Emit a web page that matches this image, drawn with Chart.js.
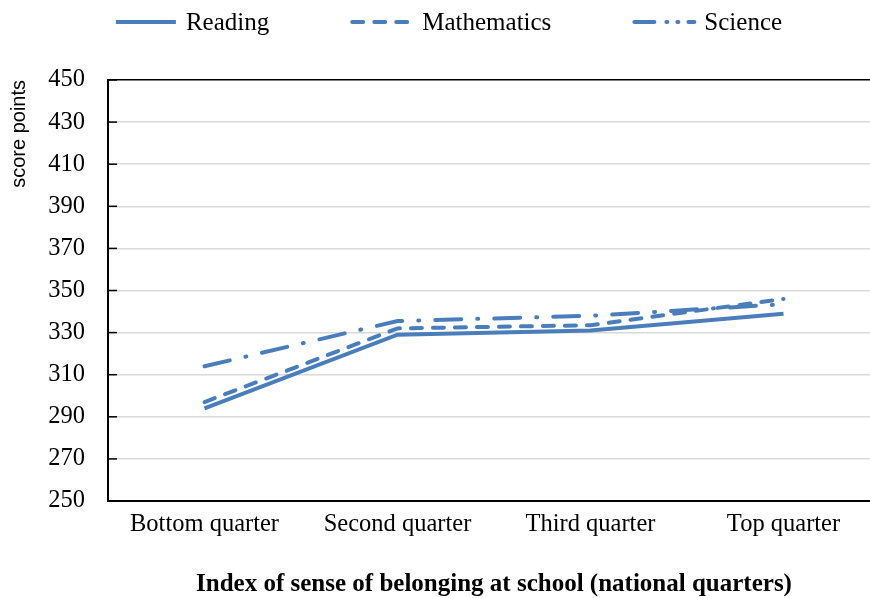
<!DOCTYPE html>
<html><head><meta charset="utf-8">
<script src="https://cdn.jsdelivr.net/npm/chart.js@4/dist/chart.umd.min.js"></script>
<style>
html,body{margin:0;padding:0;background:#fff;overflow:hidden;width:870px;height:598px}
#wrap{width:890px;height:598px}
</style></head>
<body><div id="wrap"><canvas id="c" width="890" height="598"></canvas></div>
<script>
const categories = ['Bottom quarter', 'Second quarter', 'Third quarter', 'Top quarter'];
const reading = [294, 329, 331, 339];
const mathematics = [297, 332, 333.5, 346];
const science = [314, 335.5, 338, 343.5];
const yTicks = [250, 270, 290, 310, 330, 350, 370, 390, 410, 430, 450];
const seriesNames = ['Reading', 'Mathematics', 'Science'];
const yTitle = 'score points';
const xTitle = 'Index of sense of belonging at school (national quarters)';

const BLUE = '#4a7ebb';
const SERIF = '"Liberation Serif", "Times New Roman", serif';

const customLegend = {
  id: 'customLegend',
  afterDraw(chart) {
    const ctx = chart.ctx;
    const ds = chart.data.datasets;
    const lineW = 64, gap = 8, spacing = 81, cy = 22;
    ctx.save();
    ctx.font = '25px ' + SERIF;
    const widths = ds.map(d => lineW + gap + ctx.measureText(d.label).width);
    const total = widths.reduce((a, b) => a + b, 0) + spacing * (ds.length - 1);
    let x = 448 - total / 2;
    ds.forEach((d, i) => {
      ctx.beginPath();
      ctx.strokeStyle = d.borderColor;
      ctx.lineWidth = d.borderWidth;
      ctx.lineCap = d.borderCapStyle || 'butt';
      ctx.setLineDash(d.legendDash || d.borderDash || []);
      ctx.moveTo(x + 2, cy);
      ctx.lineTo(x + lineW - 2, cy);
      ctx.stroke();
      ctx.setLineDash([]);
      ctx.fillStyle = '#000';
      ctx.textAlign = 'left';
      ctx.textBaseline = 'middle';
      ctx.fillText(d.label, x + lineW + gap, cy + 1);
      x += widths[i] + spacing;
    });
    ctx.restore();
  }
};

const innerTicks = {
  id: 'innerTicks',
  afterDraw(chart) {
    const ctx = chart.ctx;
    const ys = chart.scales.y;
    const left = chart.chartArea.left;
    ctx.save();
    ctx.strokeStyle = '#000';
    ctx.lineWidth = 1.5;
    ys.ticks.forEach(t => {
      const y = ys.getPixelForValue(t.value);
      ctx.beginPath();
      ctx.moveTo(left, y);
      ctx.lineTo(left + 9, y);
      ctx.stroke();
    });
    ctx.restore();
  }
};

function mk(label, data, dash, cap, legendDash) {
  return {
    label, data,
    borderColor: BLUE, backgroundColor: BLUE,
    borderWidth: 4, borderDash: dash, borderCapStyle: cap, legendDash,
    pointRadius: 0, pointHoverRadius: 0, tension: 0, fill: false
  };
}

new Chart(document.getElementById('c'), {
  type: 'line',
  data: {
    labels: categories,
    datasets: [
      mk(seriesNames[0], reading, [], 'butt'),
      mk(seriesNames[1], mathematics, [11, 11], 'round'),
      mk(seriesNames[2], science, [26, 16, 1, 16], 'round', [20, 12, 1, 10, 1, 10])
    ]
  },
  plugins: [customLegend, innerTicks],
  options: {
    responsive: false,
    animation: false,
    events: [],
    layout: { padding: { top: 80, right: 10, left: 0, bottom: 0 } },
    plugins: { legend: { display: false }, tooltip: { enabled: false } },
    scales: {
      x: {
        offset: true,
        grid: { display: false, drawTicks: false },
        border: { display: true, color: '#000', width: 2 },
        ticks: { color: '#000', padding: 9, font: { family: SERIF, size: 24.5 }, maxRotation: 0 },
        title: { display: true, text: xTitle, color: '#000', padding: { top: 0, bottom: -2 },
                 font: { family: SERIF, size: 25, weight: 'bold' } },
        afterFit(s) { s.height = 97; }
      },
      y: {
        min: 250, max: 450,
        afterBuildTicks(s) { s.ticks = yTicks.map(v => ({ value: v })); },
        grid: {
          drawTicks: false,
          lineWidth: 1.5,
          color: c => (c.tick && c.tick.value === 450) ? '#000' : '#d9d9d9'
        },
        border: { display: true, color: '#000', width: 2 },
        ticks: { color: '#000', padding: 23, font: { family: SERIF, size: 24.5 } },
        title: { display: true, text: yTitle, align: 'end', color: '#000', padding: { top: 7, bottom: 0 },
                 font: { family: '"Liberation Sans", Arial, sans-serif', size: 20 } },
        afterFit(s) { s.width = 108; }
      }
    }
  }
});
</script>
</body></html>
